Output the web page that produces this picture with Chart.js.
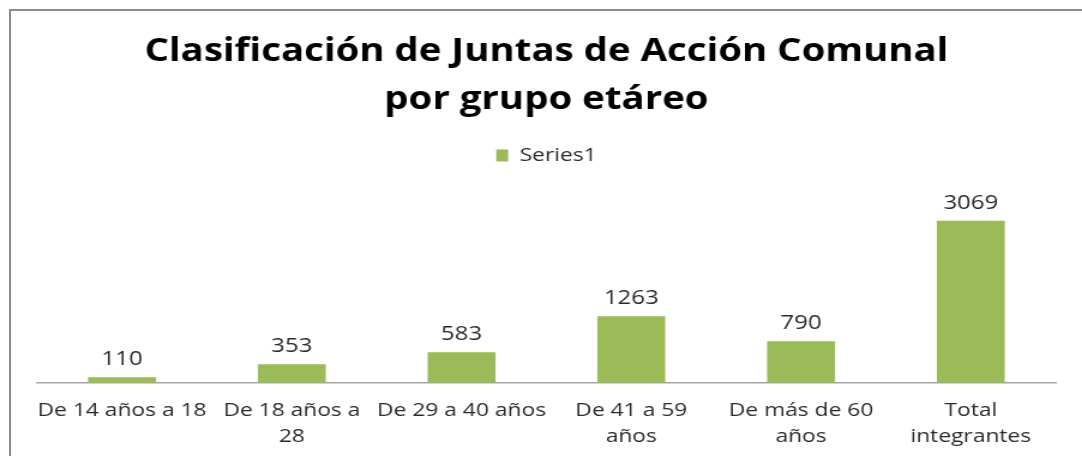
<!DOCTYPE html>
<html lang="es">
<head>
<meta charset="UTF-8">
<title>Clasificación de Juntas de Acción Comunal</title>
<script src="https://cdn.jsdelivr.net/npm/chart.js@4/dist/chart.umd.min.js"></script>
<style>
  html, body { margin: 0; padding: 0; background: #fff; }
  #wrap { position: relative; width: 1082px; height: 456px; overflow: hidden; }
  /* the original picture is a bit wider than it is tall, so stretch it the same way.
     canvas runs a few px past the bottom edge, like the cropped original */
  #stretch { position: absolute; left: 0; top: 0; width: 902px; height: 465px;
             transform: scaleX(1.1996); transform-origin: 0 0; }
  #stretch canvas { display: block; }
  #frame { position: absolute; left: 9px; top: 9px; width: 1100px; height: 480px;
           border: 2px solid #8c8c8c; pointer-events: none; }
</style>
</head>
<body>
<div id="wrap">
  <div id="stretch"><canvas id="myChart" width="902" height="465"></canvas></div>
  <div id="frame"></div>
</div>
<script>
// data
const categories = [
  ['De 14 años a 18'],
  ['De 18 años a', '28'],
  ['De 29 a 40 años'],
  ['De 41 a 59', 'años'],
  ['De más de 60', 'años'],
  ['Total', 'integrantes']
];
const series1 = [110, 353, 583, 1263, 790, 3069];
const seriesName = 'Series1';
const titleLines = ['Clasificación de Juntas de Acción Comunal', 'por grupo etáreo'];

const FONT = "'Open Sans', 'DejaVu Sans', sans-serif";

// values written over each bar
const barLabels = {
  id: 'barLabels',
  afterDatasetsDraw(chart) {
    const ctx = chart.ctx;
    const meta = chart.getDatasetMeta(0);
    ctx.save();
    ctx.font = '20px ' + FONT;
    ctx.fillStyle = '#2b2b2b';
    ctx.textAlign = 'center';
    ctx.textBaseline = 'alphabetic';
    meta.data.forEach((bar, i) => {
      ctx.fillText(series1[i], bar.x, bar.y - 12);
    });
    ctx.restore();
  }
};

// leave some room between the legend and the bars
const legendGap = {
  id: 'legendGap',
  beforeLayout(chart) {
    const lg = chart.legend;
    if (lg && !lg._gapDone) {
      const fit = lg.fit;
      lg.fit = function () { fit.call(this); this.height += 23; };
      lg._gapDone = true;
    }
  }
};

let ctx = document.getElementById('myChart').getContext('2d');
let chart = new Chart(ctx, {
  type: 'bar',
  data: {
    labels: categories,
    datasets: [{
      label: seriesName,
      data: series1,
      backgroundColor: '#9bbb59',
      categoryPercentage: 1,
      barPercentage: 0.4
    }]
  },
  options: {
    responsive: false,
    animation: false,
    layout: { padding: { left: 31, right: 22, top: 0, bottom: 0 } },
    plugins: {
      title: {
        display: true,
        text: titleLines,
        color: '#000',
        font: { family: FONT, size: 32, weight: 'bold', lineHeight: 1.5 },
        padding: { top: 28, bottom: 12 }
      },
      legend: {
        display: true,
        labels: {
          color: '#2b2b2b',
          font: { family: FONT, size: 19 },
          boxWidth: 10,
          boxHeight: 12,
          padding: 10
        }
      },
      tooltip: { enabled: false }
    },
    scales: {
      x: {
        grid: { display: false, drawTicks: false },
        border: { display: true, color: '#a6a6a6', width: 1.5 },
        ticks: {
          color: '#2b2b2b',
          font: { family: FONT, size: 19, lineHeight: 1.37 },
          padding: 15,
          maxRotation: 0,
          autoSkip: false
        }
      },
      y: {
        display: false,
        min: 0,
        max: 3500
      }
    }
  },
  plugins: [barLabels, legendGap]
});
</script>
</body>
</html>
